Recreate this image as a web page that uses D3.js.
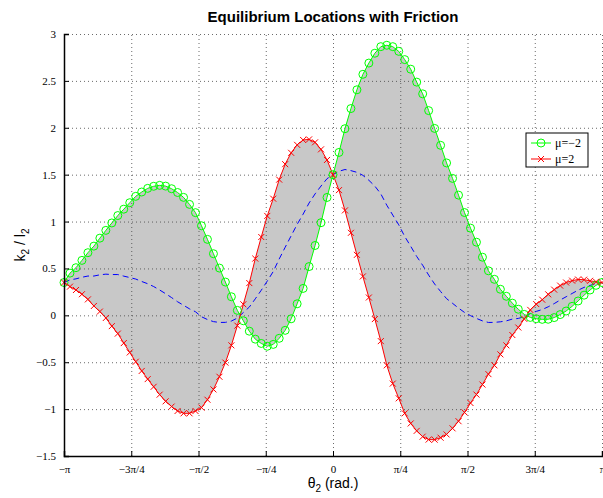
<!DOCTYPE html>
<html>
<head>
<meta charset="utf-8">
<script src="https://cdn.jsdelivr.net/npm/d3@7"></script>
<style>
  body { margin: 0; background: #fff; }
  svg { display: block; }
  .tick text { font-family: "Liberation Serif", "Times New Roman", serif; font-size: 11px; fill: #000; }
</style>
</head>
<body>
<div id="vis"></div>
<script>
// theta_2 in degrees (sample points of both friction curves)
var thetaDeg = [-180, -176, -172, -168, -164, -160, -156, -152, -148, -144, -140, -136, -132, -128, -124, -120,
  -116, -112, -108, -104, -100, -96, -92, -88, -84, -80, -76, -72, -68, -64, -60, -56, -52, -48, -44, -40,
  -36, -32, -28, -24, -20, -16, -12, -8, -4, 0, 4, 8, 12, 16, 20, 24, 28, 32, 36, 40, 44, 48, 52, 56, 60,
  64, 68, 72, 76, 80, 84, 88, 92, 96, 100, 104, 108, 112, 116, 120, 124, 128, 132, 136, 140, 144, 148,
  152, 156, 160, 164, 168, 172, 176, 180];

// mu = -2 (green circles)
var kMuNeg = [0.35, 0.45, 0.508, 0.586, 0.668, 0.738, 0.823, 0.906, 0.985, 1.064, 1.132, 1.201, 1.269, 1.315,
  1.354, 1.376, 1.386, 1.378, 1.350, 1.310, 1.258, 1.183, 1.095, 0.955, 0.81, 0.657, 0.504, 0.355, 0.198,
  0.053, -0.058, -0.169, -0.254, -0.30, -0.33, -0.31, -0.245, -0.16, -0.037, 0.123, 0.287, 0.52, 0.745,
  0.988, 1.257, 1.50, 1.737, 1.99, 2.205, 2.405, 2.57, 2.69, 2.795, 2.865, 2.88, 2.865, 2.815, 2.727,
  2.625, 2.487, 2.362, 2.183, 1.993, 1.813, 1.625, 1.46, 1.282, 1.096, 0.93, 0.78, 0.62, 0.475, 0.384,
  0.278, 0.203, 0.13, 0.065, 0.01, -0.022, -0.036, -0.043, -0.042, -0.024, 0.008, 0.046, 0.096, 0.153,
  0.215, 0.27, 0.32, 0.35];

// mu = 2 (red crosses)
var kMuPos = [0.35, 0.306, 0.27, 0.225, 0.17, 0.10, 0.04, -0.028, -0.115, -0.195, -0.296, -0.396, -0.495,
  -0.593, -0.68, -0.762, -0.846, -0.917, -0.973, -1.02, -1.045, -1.045, -1.02, -0.984, -0.90, -0.79,
  -0.655, -0.504, -0.32, -0.11, 0.118, 0.344, 0.605, 0.835, 1.06, 1.244, 1.447, 1.612, 1.733, 1.818,
  1.87, 1.876, 1.845, 1.77, 1.657, 1.50, 1.335, 1.119, 0.88, 0.645, 0.415, 0.19, -0.04, -0.275, -0.533,
  -0.728, -0.885, -1.045, -1.153, -1.232, -1.294, -1.325, -1.326, -1.305, -1.27, -1.205, -1.129, -1.035,
  -0.935, -0.845, -0.738, -0.627, -0.533, -0.416, -0.32, -0.21, -0.13, -0.038, 0.058, 0.12, 0.167,
  0.224, 0.274, 0.317, 0.35, 0.37, 0.382, 0.38, 0.368, 0.358, 0.35];

// frictionless (blue dashed)
var kMuZero = [0.35, 0.378, 0.389, 0.406, 0.419, 0.419, 0.432, 0.439, 0.435, 0.435, 0.418, 0.403, 0.387,
  0.361, 0.337, 0.307, 0.27, 0.231, 0.189, 0.145, 0.107, 0.069, 0.038, -0.015, -0.045, -0.067, -0.076,
  -0.075, -0.061, -0.029, 0.03, 0.088, 0.176, 0.268, 0.365, 0.467, 0.601, 0.726, 0.848, 0.97, 1.079,
  1.198, 1.295, 1.379, 1.457, 1.5, 1.536, 1.555, 1.543, 1.525, 1.493, 1.44, 1.378, 1.295, 1.174, 1.069,
  0.965, 0.841, 0.736, 0.628, 0.534, 0.429, 0.334, 0.254, 0.178, 0.128, 0.077, 0.031, -0.003, -0.033,
  -0.059, -0.076, -0.075, -0.069, -0.059, -0.04, -0.033, -0.014, 0.018, 0.042, 0.062, 0.091, 0.125,
  0.163, 0.198, 0.233, 0.268, 0.298, 0.319, 0.339, 0.35];

var xTickValues = [-Math.PI, -3 * Math.PI / 4, -Math.PI / 2, -Math.PI / 4, 0, Math.PI / 4, Math.PI / 2, 3 * Math.PI / 4, Math.PI];
var xTickLabels = ['\u2212\u03c0', '\u22123\u03c0/4', '\u2212\u03c0/2', '\u2212\u03c0/4', '0', '\u03c0/4', '\u03c0/2', '3\u03c0/4', '\u03c0'];
var yTickValues = [-1.5, -1, -0.5, 0, 0.5, 1, 1.5, 2, 2.5, 3];
var legendLabels = ['\u03bc=\u22122', '\u03bc=2'];

var width = 603, height = 498;
var margin = { left: 64, right: 1, top: 34, bottom: 42 };

var svg = d3.select('#vis').append('svg')
    .attr('width', width)
    .attr('height', height);

var x = d3.scaleLinear().domain([-Math.PI, Math.PI]).range([margin.left, width - margin.right]);
var y = d3.scaleLinear().domain([-1.5, 3]).range([height - margin.bottom, margin.top]);

var pts = thetaDeg.map(function (d, i) {
    return { t: d * Math.PI / 180, g: kMuNeg[i], r: kMuPos[i], b: kMuZero[i] };
});

// shaded region between the two friction curves
var area = d3.area()
    .x(function (d) { return x(d.t); })
    .y0(function (d) { return y(d.r); })
    .y1(function (d) { return y(d.g); });
svg.append('path')
    .datum(pts)
    .attr('d', area)
    .attr('fill', '#c8c8c8');

// grid (dotted)
var gridX = svg.append('g')
    .attr('transform', 'translate(0,' + (height - margin.bottom) + ')')
    .call(d3.axisBottom(x).tickValues(xTickValues).tickSize(-(height - margin.top - margin.bottom)).tickFormat(''));
var gridY = svg.append('g')
    .attr('transform', 'translate(' + margin.left + ',0)')
    .call(d3.axisLeft(y).tickValues(yTickValues).tickSize(-(width - margin.left - margin.right)).tickFormat(''));
[gridX, gridY].forEach(function (g) {
    g.select('.domain').remove();
    g.selectAll('line')
        .attr('stroke', '#444')
        .attr('stroke-width', 0.8)
        .attr('stroke-dasharray', '1,3');
});

// curves
var line = function (key) {
    return d3.line()
        .x(function (d) { return x(d.t); })
        .y(function (d) { return y(d[key]); });
};

svg.append('path')
    .datum(pts)
    .attr('d', line('b'))
    .attr('fill', 'none')
    .attr('stroke', '#0000ff')
    .attr('stroke-width', 1)
    .attr('stroke-dasharray', '6,4');

svg.append('path')
    .datum(pts)
    .attr('d', line('g'))
    .attr('fill', 'none')
    .attr('stroke', '#00ff00')
    .attr('stroke-width', 1);

svg.append('path')
    .datum(pts)
    .attr('d', line('r'))
    .attr('fill', 'none')
    .attr('stroke', '#ff0000')
    .attr('stroke-width', 1);

function crossPath(cx, cy, s) {
    return 'M' + (cx - s) + ',' + (cy - s) + 'L' + (cx + s) + ',' + (cy + s) +
        'M' + (cx - s) + ',' + (cy + s) + 'L' + (cx + s) + ',' + (cy - s);
}

svg.append('g').selectAll('circle')
    .data(pts)
    .enter().append('circle')
    .attr('cx', function (d) { return x(d.t); })
    .attr('cy', function (d) { return y(d.g); })
    .attr('r', 4)
    .attr('fill', 'none')
    .attr('stroke', '#00ff00')
    .attr('stroke-width', 1);

svg.append('g').selectAll('path')
    .data(pts)
    .enter().append('path')
    .attr('d', function (d) { return crossPath(x(d.t), y(d.r), 3); })
    .attr('fill', 'none')
    .attr('stroke', '#ff0000')
    .attr('stroke-width', 1);

// axes
var xAxis = svg.append('g')
    .attr('transform', 'translate(0,' + (height - margin.bottom) + ')')
    .call(d3.axisBottom(x).tickValues(xTickValues).tickSize(-5).tickPadding(9)
        .tickFormat(function (d, i) { return xTickLabels[i]; }));
var yAxis = svg.append('g')
    .attr('transform', 'translate(' + margin.left + ',0)')
    .call(d3.axisLeft(y).tickValues(yTickValues).tickSize(-5).tickPadding(8)
        .tickFormat(function (d) { return String(d).replace('-', '\u2212'); }));
[xAxis, yAxis].forEach(function (g) {
    g.select('.domain').attr('stroke', '#000').attr('stroke-width', 1.5);
    g.selectAll('.tick line').attr('stroke', '#000');
});

// title and labels
svg.append('text')
    .attr('x', 333)
    .attr('y', 22)
    .attr('text-anchor', 'middle')
    .style('font-family', '"Liberation Sans", Arial, sans-serif')
    .style('font-size', '15px')
    .style('font-weight', 'bold')
    .text('Equilibrium Locations with Friction');

var xl = svg.append('text')
    .attr('x', 333)
    .attr('y', 488)
    .attr('text-anchor', 'middle')
    .style('font-family', '"Liberation Sans", Arial, sans-serif')
    .style('font-size', '14px');
xl.append('tspan').text('\u03b8');
xl.append('tspan').attr('dy', 4).style('font-size', '10px').text('2');
xl.append('tspan').attr('dy', -4).text(' (rad.)');

var yl = svg.append('text')
    .attr('transform', 'translate(25,245) rotate(-90)')
    .attr('text-anchor', 'middle')
    .style('font-family', '"Liberation Sans", Arial, sans-serif')
    .style('font-size', '14px');
yl.append('tspan').text('k');
yl.append('tspan').attr('dy', 4).style('font-size', '10px').text('2');
yl.append('tspan').attr('dy', -4).text(' / l');
yl.append('tspan').attr('dy', 4).style('font-size', '10px').text('2');

// legend
var legend = svg.append('g').attr('transform', 'translate(526,133)');
legend.append('rect')
    .attr('width', 62)
    .attr('height', 34)
    .attr('fill', '#fff')
    .attr('stroke', '#000')
    .attr('stroke-width', 1);
var legColors = ['#00ff00', '#ff0000'];
legendLabels.forEach(function (lab, i) {
    var ly = 10 + i * 16;
    legend.append('line')
        .attr('x1', 5).attr('x2', 25)
        .attr('y1', ly).attr('y2', ly)
        .attr('stroke', legColors[i]);
    if (i === 0) {
        legend.append('circle').attr('cx', 15).attr('cy', ly).attr('r', 4)
            .attr('fill', 'none').attr('stroke', legColors[i]);
    } else {
        legend.append('path').attr('d', crossPath(15, ly, 3))
            .attr('stroke', legColors[i]);
    }
    legend.append('text')
        .attr('x', 29)
        .attr('y', ly + 4)
        .style('font-family', '"Liberation Serif", "Times New Roman", serif')
        .style('font-size', '12px')
        .text(lab);
});
</script>
</body>
</html>
